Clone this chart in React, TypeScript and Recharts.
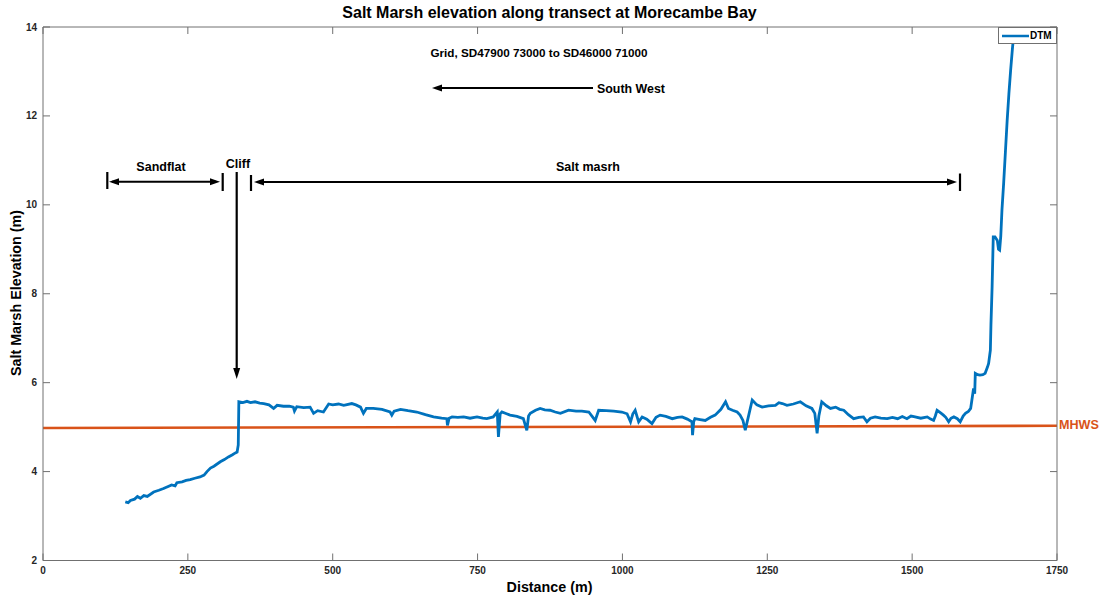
import { LineChart, Line, XAxis, YAxis, Legend } from "recharts";

// DTM profile (distance in m, elevation in m)
const distance = [
  142, 147, 151, 158, 163, 168, 174, 180, 191, 200, 208, 215, 222, 228, 231, 240, 247, 254, 262, 271,
  278, 283, 289, 295, 306, 313, 320, 327, 332, 335, 337, 338, 345, 352, 358, 366, 374, 381, 390, 398,
  404, 415, 425, 432, 434, 438, 450, 461, 467, 474, 484, 493, 500, 510, 519, 533, 540, 548, 553, 558,
  570, 585, 599, 602, 606, 617, 630, 645, 660, 674, 688, 697, 698, 701, 706, 716, 726, 737, 749, 759,
  766, 777, 784, 786, 789, 792, 800, 806, 818, 829, 835, 838, 841, 850, 858, 866, 875, 884, 893, 907,
  920, 930, 942, 953, 959, 972, 985, 999, 1008, 1014, 1018, 1022, 1028, 1034, 1042, 1051, 1058, 1065, 1075, 1086,
  1095, 1103, 1112, 1120, 1121, 1123, 1125, 1134, 1143, 1152, 1160, 1170, 1178, 1183, 1190, 1198, 1203, 1208, 1212, 1215,
  1218, 1224, 1232, 1241, 1252, 1264, 1270, 1276, 1284, 1295, 1307, 1317, 1327, 1332, 1336, 1339, 1344, 1352, 1359, 1368,
  1375, 1382, 1390, 1399, 1408, 1416, 1422, 1428, 1436, 1446, 1457, 1466, 1475, 1483, 1491, 1498, 1505, 1515, 1526, 1532,
  1537, 1540, 1543, 1548, 1554, 1558, 1563, 1567, 1572, 1578, 1583, 1588, 1592, 1597, 1601, 1603, 1606, 1608, 1609, 1613,
  1617, 1622, 1626, 1630, 1632, 1635, 1636, 1638, 1640, 1643, 1647, 1649, 1651, 1653, 1655, 1658, 1661, 1664, 1667, 1670,
  1673, 1675, 1677,
];
const elevation = [
  3.32, 3.3, 3.35, 3.38, 3.44, 3.4, 3.46, 3.44, 3.54, 3.58, 3.62, 3.66, 3.7, 3.68, 3.75, 3.77, 3.8, 3.82, 3.85, 3.88,
  3.92, 4.0, 4.08, 4.12, 4.22, 4.27, 4.33, 4.38, 4.42, 4.44, 4.6, 5.57, 5.55, 5.58, 5.55, 5.57, 5.54, 5.53, 5.5, 5.42,
  5.49, 5.47, 5.47, 5.45, 5.36, 5.46, 5.44, 5.45, 5.31, 5.37, 5.34, 5.52, 5.5, 5.52, 5.49, 5.53, 5.5, 5.45, 5.31, 5.42,
  5.42, 5.4, 5.34, 5.27, 5.36, 5.4, 5.37, 5.34, 5.28, 5.23, 5.2, 5.19, 5.04, 5.2, 5.23, 5.22, 5.23, 5.2, 5.23, 5.2,
  5.19, 5.23, 5.34, 4.78, 5.3, 5.34, 5.3, 5.27, 5.24, 5.19, 4.93, 5.25, 5.31, 5.38, 5.42, 5.39, 5.38, 5.34, 5.31, 5.38,
  5.36, 5.36, 5.34, 5.15, 5.38, 5.37, 5.36, 5.34, 5.3, 5.12, 5.3, 5.38, 5.12, 5.23, 5.18, 5.08, 5.22, 5.27, 5.24, 5.19,
  5.22, 5.23, 5.18, 5.12, 4.82, 5.12, 5.19, 5.17, 5.15, 5.22, 5.27, 5.4, 5.57, 5.42, 5.38, 5.34, 5.27, 5.15, 4.93, 5.1,
  5.27, 5.61, 5.5, 5.45, 5.48, 5.49, 5.55, 5.53, 5.49, 5.52, 5.57, 5.48, 5.42, 5.31, 4.86, 5.25, 5.57, 5.48, 5.42, 5.45,
  5.4, 5.38, 5.28, 5.19, 5.22, 5.23, 5.12, 5.2, 5.23, 5.2, 5.19, 5.22, 5.19, 5.24, 5.19, 5.25, 5.23, 5.2, 5.23, 5.18,
  5.15, 5.25, 5.38, 5.33, 5.27, 5.22, 5.12, 5.2, 5.23, 5.19, 5.12, 5.25, 5.31, 5.35, 5.42, 5.6, 5.87, 5.75, 6.21, 6.18,
  6.17, 6.18, 6.21, 6.35, 6.43, 6.73, 7.3, 8.15, 9.28, 9.28, 9.2, 9.0, 8.98, 9.3, 9.88, 10.5, 11.2, 11.9, 12.5, 13.03,
  13.5, 13.78, 14.0,
];

// mean high water springs level
const mhwsDistance = [0, 1750];
const mhwsLevel = [4.98, 5.03];

const xTicks = [0, 250, 500, 750, 1000, 1250, 1500, 1750];
const yTicks = [2, 4, 6, 8, 10, 12, 14];

const dtm = distance.map((d, i) => ({ d, z: elevation[i] }));
const mhws = mhwsDistance.map((d, i) => ({ d, z: mhwsLevel[i] }));

const FONT = '"Liberation Sans", Arial, Helvetica, sans-serif';
const BLUE = "#0072BD";
const ORANGE = "#D95319";
const AXIS = "#707070";
const tickStyle = { fill: "#262626", fontSize: 10, fontWeight: 700, fontFamily: FONT };

function DtmLegend() {
  return (
    <div
      style={{
        width: 59,
        height: 17,
        boxSizing: "border-box",
        border: `1px solid ${AXIS}`,
        background: "#fff",
        display: "flex",
        alignItems: "center",
        fontFamily: FONT,
      }}
    >
      <svg width={31} height={14}>
        <line x1={3} y1={7} x2={30} y2={7} stroke={BLUE} strokeWidth={2.5} />
      </svg>
      <span style={{ fontSize: 10, fontWeight: 700, color: "#000", lineHeight: "15px" }}>DTM</span>
    </div>
  );
}

function Bar({ x, y1, y2 }: { x: number; y1: number; y2: number }) {
  return <line x1={x} y1={y1} x2={x} y2={y2} stroke="#000" strokeWidth={2.2} />;
}

function HArrow({ from, to, y }: { from: number; to: number; y: number }) {
  const dir = to > from ? 1 : -1;
  return (
    <g>
      <line x1={from} y1={y} x2={to - dir * 8} y2={y} stroke="#000" strokeWidth={2} />
      <polygon points={`${to},${y} ${to - dir * 10},${y - 3.5} ${to - dir * 10},${y + 3.5}`} fill="#000" />
    </g>
  );
}

export default function App() {
  const label = { fontFamily: FONT, fontWeight: 700, fill: "#000" } as const;
  return (
    <div style={{ position: "absolute", left: 0, top: 0, width: 1111, height: 601, background: "#fff" }}>
      <LineChart width={1111} height={601} margin={{ top: 26, right: 53, left: 0, bottom: 10.5 }} style={{ fontFamily: FONT }}>
        <XAxis
          dataKey="d"
          type="number"
          domain={[0, 1750]}
          ticks={xTicks}
          allowDataOverflow
          height={30}
          stroke={AXIS}
          tickSize={-7}
          tickMargin={13}
          tick={tickStyle}
        />
        <XAxis
          xAxisId="top"
          dataKey="d"
          orientation="top"
          type="number"
          domain={[0, 1750]}
          ticks={xTicks}
          allowDataOverflow
          height={1}
          stroke={AXIS}
          tickSize={-7}
          tickFormatter={() => ""}
        />
        <YAxis
          type="number"
          domain={[2, 14]}
          ticks={yTicks}
          allowDataOverflow
          width={43}
          stroke={AXIS}
          tickSize={-7}
          tickMargin={13}
          tick={tickStyle}
        />
        <YAxis
          yAxisId="right"
          orientation="right"
          type="number"
          domain={[2, 14]}
          ticks={yTicks}
          allowDataOverflow
          width={1}
          stroke={AXIS}
          tickSize={-7}
          tickFormatter={() => ""}
        />
        <Line
          data={mhws}
          xAxisId="top"
          yAxisId="right"
          dataKey="z"
          name="MHWS"
          type="linear"
          stroke={ORANGE}
          strokeWidth={2.6}
          dot={false}
          legendType="none"
          isAnimationActive={false}
        />
        <Line
          data={dtm}
          dataKey="z"
          name="DTM"
          type="linear"
          stroke={BLUE}
          strokeWidth={2.8}
          dot={false}
          isAnimationActive={false}
        />
        <Legend
          layout="horizontal"
          verticalAlign="middle"
          align="center"
          content={<DtmLegend />}
          wrapperStyle={{ left: 998, top: 27, width: 59, height: 17 }}
        />
      </LineChart>

      <svg
        width={1111}
        height={601}
        style={{ position: "absolute", left: 0, top: 0, pointerEvents: "none" }}
      >
        <text x={549.5} y={18} textAnchor="middle" fontSize={16} {...label}>
          Salt Marsh elevation along transect at Morecambe Bay
        </text>
        <text x={549.5} y={592} textAnchor="middle" fontSize={14.3} {...label}>
          Distance (m)
        </text>
        <text
          x={0}
          y={0}
          transform="translate(21,293) rotate(-90)"
          textAnchor="middle"
          fontSize={14.3}
          {...label}
        >
          Salt Marsh Elevation (m)
        </text>

        <text x={539} y={57} textAnchor="middle" fontSize={11.7} {...label}>
          Grid, SD47900 73000 to SD46000 71000
        </text>
        <HArrow from={593} to={432} y={88} />
        <text x={597} y={93} fontSize={12.4} {...label}>
          South West
        </text>

        <text x={161} y={171} textAnchor="middle" fontSize={12.5} {...label}>
          Sandflat
        </text>
        <text x={238} y={168} textAnchor="middle" fontSize={12.5} {...label}>
          Cliff
        </text>
        <text x={588} y={171} textAnchor="middle" fontSize={12.5} {...label}>
          Salt masrh
        </text>

        <Bar x={107.3} y1={172} y2={189} />
        <line x1={112} y1={181.7} x2={216} y2={181.7} stroke="#000" strokeWidth={2} />
        <polygon points="109,181.7 119,178.2 119,185.2" fill="#000" />
        <polygon points="220,181.7 210,178.2 210,185.2" fill="#000" />
        <Bar x={222.7} y1={173} y2={191} />

        <line x1={236.7} y1={172} x2={236.7} y2={370} stroke="#000" strokeWidth={2.2} />
        <polygon points="236.7,379 233.2,368 240.2,368" fill="#000" />

        <Bar x={251} y1={175} y2={191} />
        <line x1={258} y1={182} x2={953} y2={182} stroke="#000" strokeWidth={2} />
        <polygon points="254,182 264,178.5 264,185.5" fill="#000" />
        <polygon points="957,182 947,178.5 947,185.5" fill="#000" />
        <Bar x={960} y1={173.5} y2={191} />

        <text x={1059} y={428.5} fontSize={12.6} fontFamily={FONT} fontWeight={700} fill={ORANGE}>
          MHWS
        </text>
      </svg>
    </div>
  );
}
